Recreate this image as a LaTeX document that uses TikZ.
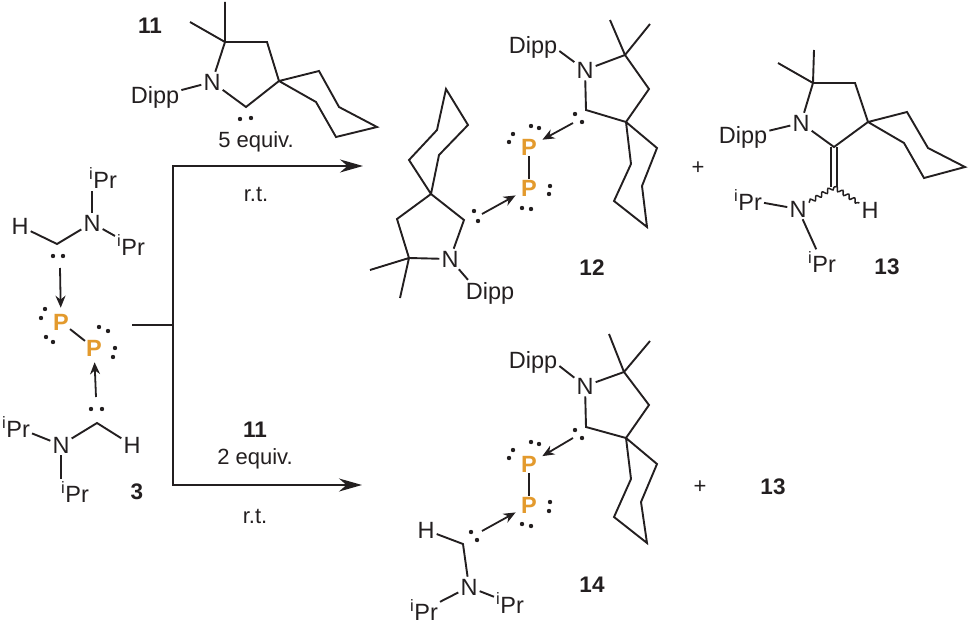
\documentclass[tikz,border=0pt]{standalone}
\usepackage{fontspec}
\setmainfont{Liberation Sans}
\usetikzlibrary{arrows.meta, decorations.pathmorphing}
\definecolor{porange}{HTML}{E39A2D}
\definecolor{ink}{HTML}{231F20}
\tikzstyle{bond} = [line width=1.9pt, ink]
\tikzstyle{atom} = [inner sep=2pt, font=\fontsize{23.5}{25}\selectfont, text=ink]
\tikzstyle{phos} = [inner sep=1pt, font=\fontsize{23.5}{25}\selectfont\bfseries, text=porange]
\tikzstyle{note} = [inner sep=0pt, font=\fontsize{22}{24}\selectfont, text=ink]
\tikzstyle{num} = [inner sep=0pt, font=\fontsize{22.5}{24}\selectfont\bfseries, text=ink]
\tikzstyle{plus} = [inner sep=0pt, font=\fontsize{22}{24}\selectfont, text=ink]
\tikzstyle{arrow} = [bond, -{Stealth[length=23pt,width=13pt]}]
\tikzstyle{dative} = [line width=1.8pt, ink, -{Stealth[length=12pt,width=10pt]}, shorten >=5pt]
\tikzstyle{wavy} = [line width=1.5pt, ink, decorate, decoration={snake, amplitude=2pt, segment length=7pt}]
\newcommand{\ringatoms}[2]{\foreach \atom/\px/\py in {#2} \coordinate (#1-\atom) at (\px,\py);}
\newcommand{\ringbonds}[1]{\draw [bond] (#1-me1) -- (#1-cm) -- (#1-ch) -- (#1-sp) -- (#1-ra) -- (#1-rb) -- (#1-rc) -- (#1-rd) -- (#1-re) -- (#1-sp) -- (#1-c) -- (#1-n) -- (#1-cm) -- (#1-me2);}
\newcommand{\lonepairs}[1]{\foreach \px/\py in {#1} \fill [ink] (\px,\py) circle (2.2pt);}
\newcommand{\iPr}{\textsuperscript{i}Pr}

\begin{document}
\begin{tikzpicture}[x=1pt, y=-1pt]
	\useasboundingbox (0,0) rectangle (969,626);

	% compound 3
	\node (p1) [phos] at (61,322) {P};
	\node (p2) [phos] at (94,348) {P};
	\node (tn) [atom] at (92,223) {N};
	\node (ti1) [atom] at (103,178) {\iPr};
	\node (ti2) [atom] at (131,245) {\iPr};
	\node (th) [atom] at (20,226) {H};
	\coordinate (tc) at (57,244);
	\coordinate (tail1) at (60,268);
	\node (bn) [atom] at (61,445) {N};
	\node (bi1) [atom] at (16,427) {\iPr};
	\node (bi2) [atom] at (75,492) {\iPr};
	\node (bh) [atom] at (132,445) {H};
	\coordinate (bc) at (97,423);
	\coordinate (tail2) at (96,397);
	\node (lab3) [num] at (137,492) {3};
	\draw [bond] (th) -- (tc) -- (tn);
	\draw [bond] (tn) -- (tn |- ti1.south);
	\draw [bond] (tn) -- (ti2);
	\draw [bond] (bh) -- (bc) -- (bn);
	\draw [bond] (bi1) -- (bn);
	\draw [bond] (bn) -- (bn |- bi2.north);
	\draw [bond] (p1) -- (p2);
	\draw [dative] (tail1) -- (p1);
	\draw [dative] (tail2) -- (p2);
	\lonepairs{53/256, 63/256, 45/309, 41/318, 46/337, 53/342, 99/327, 108/331, 115/348, 113/357, 91/409, 102/409}

	% reaction arrows
	\coordinate (start) at (132,325);
	\coordinate (split) at (173,325);
	\coordinate (up) at (173,166);
	\coordinate (down) at (173,485);
	\coordinate (upend) at (363,166);
	\coordinate (downend) at (362,485);
	\draw [bond] (start) -- (split);
	\draw [arrow] (split) -- (up) -- (upend);
	\draw [arrow] (split) -- (down) -- (downend);
	\node (rt1) [note] at (256,194) {r.t.};
	\node (eq1) [note] at (256,142) {5 equiv.};
	\node (lab11b) [num] at (255,430) {11};
	\node (eq2) [note] at (255,459) {2 equiv.};
	\node (rt2) [note] at (255,516) {r.t.};

	% compound 11
	\node (a-n) [atom] at (212,82) {N};
	\node (a-dipp) [atom] at (155,97) {Dipp};
	\node (lab11) [num] at (150,26) {11};
	\ringatoms{a}{me1/225/2, me2/190/22, cm/225/42, ch/267/42, sp/279/81, ra/319/71, rb/339/107, rc/377/127, rd/336/137, re/316/102, c/246/107}
	\ringbonds{a}
	\draw [bond] (a-n) -- (a-dipp);
	\lonepairs{240/119, 251/118}

	% compound 12
	\node (b-n) [atom] at (585,70) {N};
	\node (b-dipp) [atom] at (533,47) {Dipp};
	\ringatoms{b}{me1/610/20, me2/650/24, cm/625/55, ch/649/89, sp/626/122, ra/657/148, rb/642/186, rc/647/227, rd/614/201, re/631/164, c/586/110}
	\ringbonds{b}
	\draw [bond] (b-n) -- ([yshift=-4pt]b-dipp.east);
	\node (c-n) [atom] at (450,259) {N};
	\node (c-dipp) [atom] at (490,293) {Dipp};
	\ringatoms{c}{me1/400/298, me2/370/270, cm/409/258, ch/397/219, sp/431/194, ra/409/160, rb/437/130, rc/446/89, rd/468/125, re/439/155, c/464/220}
	\ringbonds{c}
	\draw [bond] (c-n) -- ([xshift=-22pt]c-dipp.north);
	\node (p3) [phos] at (529,147) {P};
	\node (p4) [phos] at (529,188) {P};
	\coordinate (tail3) at (573,123);
	\coordinate (tail4) at (482,214);
	\draw [bond] (p3) -- (p4);
	\draw [dative] (tail3) -- (p3);
	\draw [dative] (tail4) -- (p4);
	\lonepairs{575/114, 582/122, 474/211, 478/221, 531/126, 539/128, 513/134, 509/142, 550/186, 549/194, 522/208, 531/209}
	\node (lab12) [num] at (592,268) {12};
	\node (plus1) [plus] at (698,168) {+};

	% compound 13
	\node (d-n) [atom] at (801,123) {N};
	\node (d-dipp) [atom] at (743,137) {Dipp};
	\ringatoms{d}{me1/814/50, me2/778/63, cm/813/83, ch/855/83, sp/868/122, ra/907/112, rb/928/148, rc/965/167, rd/924/178, re/904/143, c/834/147}
	\coordinate (d-e) at (834,187);
	\draw [bond, double, double distance=3.6pt] (d-c) -- (d-e);
	\ringbonds{d}
	\draw [bond] (d-n) -- (d-dipp);
	\node (d-n2) [atom] at (798,209) {N};
	\node (d-h) [atom] at (870,210) {H};
	\node (d-i1) [atom] at (748,200) {\iPr};
	\node (d-i2) [atom] at (822,262) {\iPr};
	\draw [wavy] (d-e) -- (d-n2);
	\draw [wavy] (d-e) -- (d-h);
	\draw [bond] (d-i1) -- (d-n2) -- (d-i2);
	\node (lab13) [num] at (887,267) {13};

	% compound 14
	\node (e-n) [atom] at (585,386) {N};
	\node (e-dipp) [atom] at (533,362) {Dipp};
	\ringatoms{e}{me1/609/334, me2/650/341, cm/624/372, ch/649/405, sp/626/438, ra/657/464, rb/641/502, rc/647/543, rd/614/517, re/631/479, c/586/427}
	\ringbonds{e}
	\draw [bond] (e-n) -- ([yshift=-4pt]e-dipp.east);
	\node (p5) [phos] at (529,464) {P};
	\node (p6) [phos] at (529,505) {P};
	\coordinate (tail5) at (573,438);
	\coordinate (tail6) at (482,531);
	\draw [bond] (p5) -- (p6);
	\draw [dative] (tail5) -- (p5);
	\draw [dative] (tail6) -- (p6);
	\node (e-n2) [atom] at (469,587) {N};
	\node (e-h) [atom] at (426,530) {H};
	\node (e-i1) [atom] at (424,610) {\iPr};
	\node (e-i2) [atom] at (510,603) {\iPr};
	\coordinate (e-c2) at (463,544);
	\draw [bond] (e-h) -- (e-c2) -- (e-n2);
	\draw [bond] (e-i1) -- (e-n2) -- (e-i2);
	\lonepairs{575/430, 582/438, 471/532, 477/540, 531/442, 539/444, 513/450, 509/458, 550/502, 549/511, 522/524, 531/526}
	\node (lab14) [num] at (592,585) {14};
	\node (plus2) [plus] at (700,487) {+};
	\node (lab13b) [num] at (773,487) {13};
\end{tikzpicture}
\end{document}
